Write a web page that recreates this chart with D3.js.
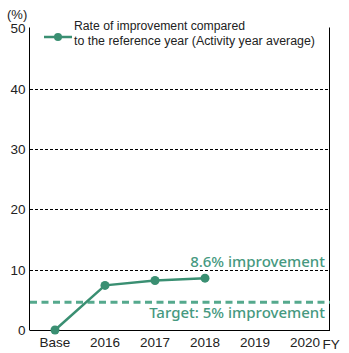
<!DOCTYPE html>
<html><head><meta charset="utf-8">
<script src="https://cdn.jsdelivr.net/npm/d3@7"></script>
<style>body{margin:0;background:#fff}svg{display:block}</style>
</head><body>
<svg id="c" width="349" height="353"></svg>
<script>
const categories = ["Base","2016","2017","2018","2019","2020"];
const seriesValues = [0, 7.4, 8.2, 8.6, null, null];
const yTicks = [0,10,20,30,40,50];
const targetValue = 4.6;
const seriesName = ["Rate of improvement compared","to the reference year (Activity year average)"];
const annotations = ["8.6% improvement","Target: 5% improvement"];

const svg = d3.select("#c");
const L=30, R=330, T=28.5, B=330;
const x = d3.scaleBand().domain(categories).range([L,R]);
const y = d3.scaleLinear().domain([0,50]).range([B,T]);
const lineColor="#3a8f72", targetColor="#55a98d", textColor="#46997f";
const fam="Liberation Sans, Arial, sans-serif";

// gridlines
svg.append("g").selectAll("line").data(yTicks.filter(d=>d>0&&d<50)).join("line")
  .attr("x1",L).attr("x2",R).attr("y1",d=>Math.round(y(d))+0.5).attr("y2",d=>Math.round(y(d))+0.5)
  .attr("stroke","#000").attr("stroke-width",1).attr("stroke-dasharray","3,2");

// right border
svg.append("line").attr("x1",R-0.5).attr("x2",R-0.5).attr("y1",T-1).attr("y2",B).attr("stroke","#000");

// y axis
const ya = svg.append("g").attr("transform",`translate(${L-0.5},0)`)
  .call(d3.axisLeft(y).tickValues(yTicks).tickSize(0).tickPadding(4));
ya.select(".domain").attr("d",`M0,${T-1}V${B}`).attr("stroke","#000");
ya.selectAll("text").attr("font-family",fam).attr("font-size",13.5).attr("fill","#222");

// x axis
const xa = svg.append("g").attr("transform",`translate(0,${B+0.5})`)
  .call(d3.axisBottom(x).tickSize(0).tickPadding(7));
xa.select(".domain").attr("d",`M${L-0.5},0H${R}`).attr("stroke","#000");
xa.selectAll("text").attr("font-family",fam).attr("font-size",13.5).attr("fill","#222");
svg.append("text").attr("x",x("2020")+x.bandwidth()/2+17.5).attr("y",B+19).text("FY")
  .attr("font-family",fam).attr("font-size",13.5).attr("fill","#222");

// (%)
svg.append("text").attr("x",7).attr("y",19).text("(%)")
  .attr("font-family",fam).attr("font-size",13).attr("fill","#222");

// target line
svg.append("line").attr("x1",L).attr("x2",R).attr("y1",y(targetValue)).attr("y2",y(targetValue))
  .attr("stroke",targetColor).attr("stroke-width",3).attr("stroke-dasharray","7,4.5");

// series
const pts = categories.map((c,i)=>({c,v:seriesValues[i]})).filter(d=>d.v!=null);
svg.append("path").datum(pts)
  .attr("d",d3.line().x(d=>x(d.c)+x.bandwidth()/2).y(d=>y(d.v)))
  .attr("fill","none").attr("stroke",lineColor).attr("stroke-width",2.5);
svg.append("g").selectAll("circle").data(pts).join("circle")
  .attr("cx",d=>x(d.c)+x.bandwidth()/2).attr("cy",d=>y(d.v)).attr("r",4.5).attr("fill",lineColor);

// annotations
svg.append("text").attr("x",325).attr("y",267).attr("text-anchor","end").text(annotations[0])
  .attr("font-family","Noto Sans, sans-serif").attr("font-weight",500).attr("font-size",15).attr("fill",textColor);
svg.append("text").attr("x",325).attr("y",318).attr("text-anchor","end").text(annotations[1])
  .attr("font-family","Noto Sans, sans-serif").attr("font-weight",500).attr("font-size",15).attr("fill",textColor);

// legend
svg.append("line").attr("x1",44).attr("x2",72).attr("y1",37).attr("y2",37).attr("stroke",lineColor).attr("stroke-width",2.5);
svg.append("circle").attr("cx",58).attr("cy",37).attr("r",4).attr("fill",lineColor);
svg.append("g").selectAll("text").data(seriesName).join("text")
  .attr("x",74).attr("y",(d,i)=>30+i*14.5).text(d=>d)
  .attr("font-family",fam).attr("font-size",12.5).attr("fill","#222")
  .attr("textLength",(d,i)=>i===0?171:241).attr("lengthAdjust","spacingAndGlyphs");
</script>
</body></html>
